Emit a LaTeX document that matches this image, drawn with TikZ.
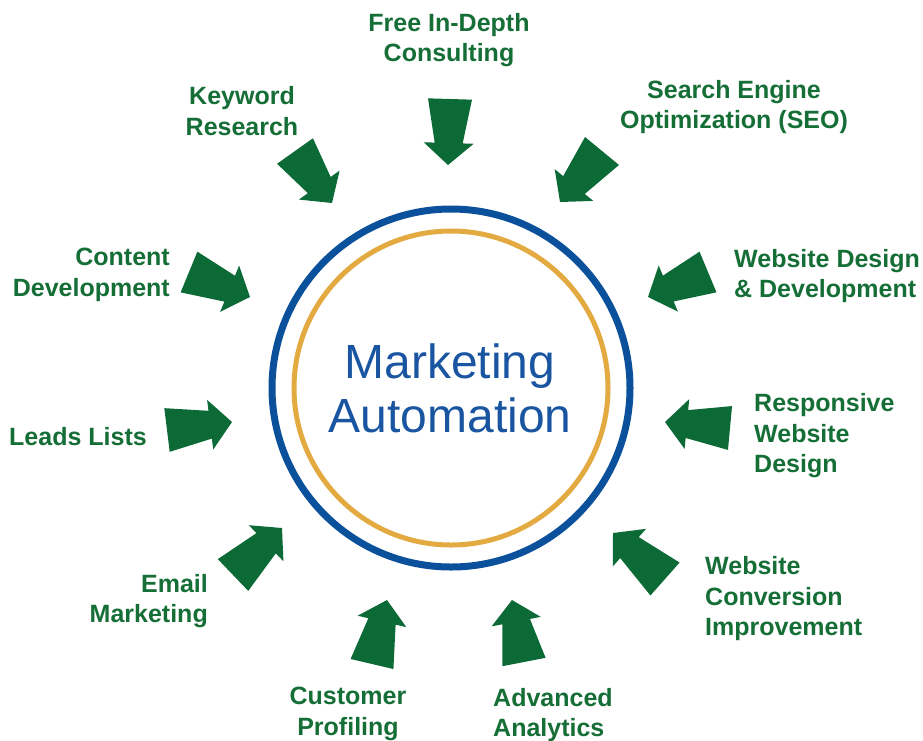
\documentclass[tikz,border=0pt]{standalone}
\usepackage{fontspec}
\setmainfont{Liberation Sans}
\usetikzlibrary{calc}
\definecolor{arrowgreen}{RGB}{12,106,55}
\definecolor{labelgreen}{RGB}{22,110,55}
\definecolor{ringblue}{RGB}{10,80,155}
\definecolor{ringorange}{RGB}{228,170,66}
\definecolor{titleblue}{RGB}{25,85,160}
\tikzset{
  lbl/.style={text=labelgreen, font=\fontsize{25}{30.5}\selectfont\bfseries, inner sep=0pt},
  arrowfill/.style={fill=arrowgreen},
}
\newcommand\garrow[2]{%
  \coordinate (#1h) at ($(#2)!22pt!(#1)$);
  \fill[arrowfill] ($(#1)!22pt!90:(#2)$) -- ($(#1h)!14pt!90:(#2)$) -- ($(#1h)!25pt!90:(#2)$) -- (#2)
    -- ($(#1h)!25pt!-90:(#2)$) -- ($(#1h)!14pt!-90:(#2)$) -- ($(#1)!22pt!-90:(#2)$) -- cycle;}
\begin{document}
\begin{tikzpicture}[x=1pt,y=-1pt]
\useasboundingbox (0,0) rectangle (923,740);
% rings
\coordinate (c) at (451,388);
\draw[ringblue, line width=7pt] (c) circle (179pt);
\draw[ringorange, line width=5pt] (c) circle (157pt);
\node[font=\fontsize{48}{54}\selectfont, text=titleblue, align=center, inner sep=0pt] (title) at (450,388) {Marketing\\Automation};
% arrow coordinates
\coordinate (kwT) at (295,151); \coordinate (kwP) at (332,203);
\coordinate (frT) at (450,99);  \coordinate (frP) at (448,165);
\coordinate (seT) at (602,151); \coordinate (seP) at (560,202);
\coordinate (coT) at (189,272); \coordinate (coP) at (250,297);
\coordinate (wdT) at (708,272); \coordinate (wdP) at (648,297);
\coordinate (leT) at (167,430); \coordinate (leP) at (232,422);
\coordinate (reT) at (730,428); \coordinate (reP) at (665,422);
\coordinate (emT) at (233,575); \coordinate (emP) at (282,528);
\coordinate (cvT) at (665,579); \coordinate (cvP) at (613,533);
\coordinate (cuT) at (372,664); \coordinate (cuP) at (387,600);
\coordinate (adT) at (524,662); \coordinate (adP) at (512,600);
\garrow{kwT}{kwP}
\garrow{frT}{frP}
\garrow{seT}{seP}
\garrow{coT}{coP}
\garrow{wdT}{wdP}
\garrow{leT}{leP}
\garrow{reT}{reP}
\garrow{emT}{emP}
\garrow{cvT}{cvP}
\garrow{cuT}{cuP}
\garrow{adT}{adP}
% labels
\node[lbl, align=center] (free) at (449,40) {Free In-Depth\\Consulting};
\node[lbl, align=center] (kw) at (242,111) {Keyword\\Research};
\node[lbl, align=center] (seo) at (734,107) {Search Engine\\Optimization (SEO)};
\node[lbl, align=right, anchor=east] (content) at (170,275) {Content\\Development};
\node[lbl, align=left, anchor=west] (wdd) at (734,276) {Website Design\\\& Development};
\node[lbl, anchor=west] (leads) at (9,437) {Leads Lists};
\node[lbl, align=left, anchor=west] (resp) at (754,436) {Responsive\\Website\\Design};
\node[lbl, align=right, anchor=east] (email) at (208,601) {Email\\Marketing};
\node[lbl, align=left, anchor=west] (conv) at (705,599) {Website\\Conversion\\Improvement};
\node[lbl, align=center] (cust) at (348,714) {Customer\\Profiling};
\node[lbl, align=left, anchor=west] (adv) at (493,715) {Advanced\\Analytics};
\end{tikzpicture}
\end{document}
